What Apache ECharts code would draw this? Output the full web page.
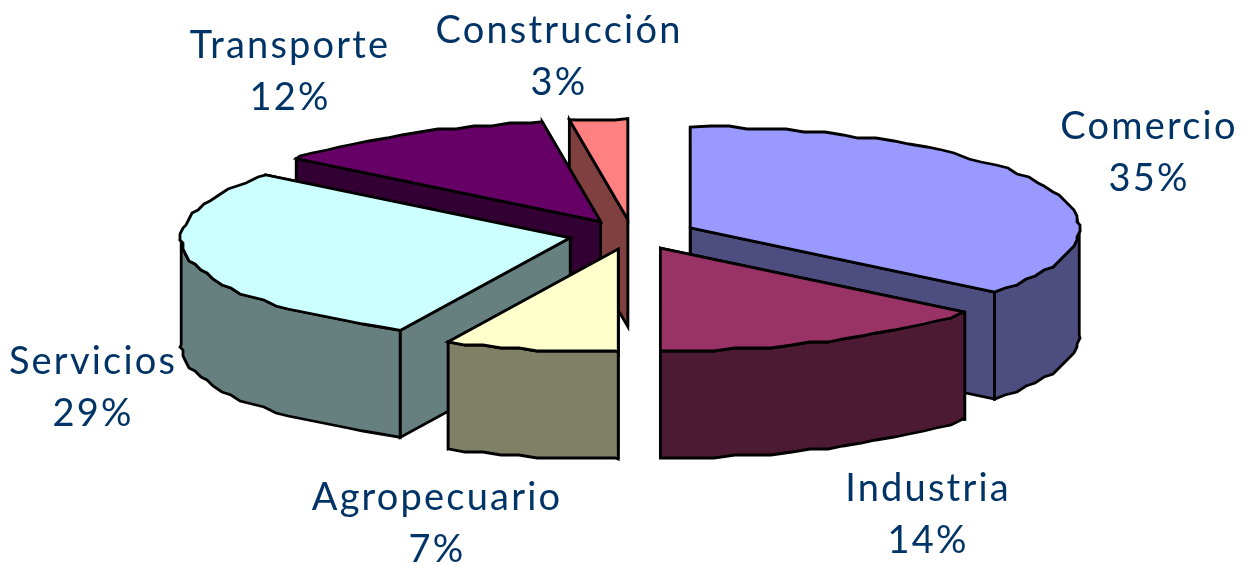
<!DOCTYPE html>
<html>
<head>
<meta charset="utf-8">
<style>html,body{margin:0;padding:0;background:#fff}#main{width:1245px;height:565px}</style>
<script src="https://cdn.jsdelivr.net/npm/echarts@6/dist/echarts.min.js"></script>
</head>
<body>
<div id="main"></div>
<script>
// pie order, clockwise from 12 o'clock
var sectors = ['Comercio', 'Industria', 'Agropecuario', 'Servicios', 'Transporte', 'Construcción'];
// shares
var shares = [35.7, 14.3, 7.2, 28.5, 11.9, 2.4];
var percentLabels = ['35%', '14%', '7%', '29%', '12%', '3%'];
var topColors = ['#9999FF', '#993366', '#FFFFCC', '#CCFFFF', '#660066', '#FF8080'];
var wallColors = ['#4D4D80', '#4D1A33', '#808066', '#668080', '#330033', '#804040'];
// back slices get painted first
var paintOrder = [5, 4, 0, 3, 1, 2];
var labelCenters = [[1149, 153], [928, 515], [437, 524], [93, 388], [290, 72], [559, 57]];

var cx = 632.6, cy = 234.5, rx = 389, ryBack = 101, ryFront = 103;
var explodeX = 64, explodeY = 15, depth = 107;
var snap = 3, angleStep = 0.05;

// canvas letter spacing, zrender has no option for it
var fillText = CanvasRenderingContext2D.prototype.fillText;
CanvasRenderingContext2D.prototype.fillText = function () {
    this.letterSpacing = '2.2px';
    return fillText.apply(this, arguments);
};

var total = shares.reduce(function (a, b) { return a + b; }, 0);
var startAngles = [];
shares.reduce(function (sum, v, i) {
    startAngles[i] = sum / total * 2 * Math.PI;
    return sum + v;
}, 0);

// front of the ellipse is slightly deeper, as in the perspective of the original
function rimY(oy, a) {
    var c = Math.cos(a);
    return oy - (c > 0 ? ryBack : ryFront) * c;
}

// outline of the rim, a bit stepped like the low-res original
// fixed angle grid so wall and top of a slice share the same steps
function rimPoints(ox, oy, a0, a1, dy) {
    var pts = [[ox + rx * Math.sin(a0), rimY(oy, a0) + dy]];
    for (var k = Math.floor(a0 / angleStep) + 1; k * angleStep < a1; k++) {
        var a = k * angleStep;
        pts.push([
            Math.round((ox + rx * Math.sin(a)) / snap) * snap,
            Math.round(rimY(oy, a) / snap) * snap + dy
        ]);
    }
    pts.push([ox + rx * Math.sin(a1), rimY(oy, a1) + dy]);
    return pts;
}

function face(points, fill) {
    return {
        type: 'polygon',
        shape: { points: points },
        style: { fill: fill, stroke: '#000', lineWidth: 2.8, lineJoin: 'miter', miterLimit: 10 }
    };
}

function renderSlice(params, api) {
    var i = api.value(0);
    var a0 = startAngles[i];
    var a1 = a0 + api.value(1) / total * 2 * Math.PI;
    var mid = (a0 + a1) / 2;
    var ox = cx + explodeX * Math.sin(mid);
    var oy = cy - explodeY * Math.cos(mid);
    var children = [];

    [a1, a0].forEach(function (a) {
        var ex = ox + rx * Math.sin(a), ey = rimY(oy, a);
        children.push(face([[ox, oy], [ex, ey], [ex, ey + depth], [ox, oy + depth]], wallColors[i]));
    });

    // only the front half of the rim shows
    var w0 = Math.max(a0, Math.PI / 2), w1 = Math.min(a1, Math.PI * 1.5);
    if (w1 > w0) {
        children.push(face(rimPoints(ox, oy, w0, w1, 0).concat(rimPoints(ox, oy, w0, w1, depth).reverse()), wallColors[i]));
    }
    children.push(face([[ox, oy]].concat(rimPoints(ox, oy, a0, a1, 0)), topColors[i]));

    children.push({
        type: 'text',
        z2: 50,
        style: {
            x: labelCenters[i][0],
            y: labelCenters[i][1],
            text: sectors[i] + '\n' + percentLabels[i],
            fill: '#003366',
            font: '38px Lato',
            lineHeight: 52,
            align: 'center',
            verticalAlign: 'middle'
        }
    });
    return { type: 'group', children: children };
}

var chart = echarts.init(document.getElementById('main'), null, { renderer: 'canvas' });
chart.setOption({
    animation: false,
    backgroundColor: '#fff',
    series: [{
        type: 'custom',
        coordinateSystem: 'none',
        renderItem: renderSlice,
        data: paintOrder.map(function (i) { return [i, shares[i], sectors[i]]; })
    }]
});
</script>
</body>
</html>
